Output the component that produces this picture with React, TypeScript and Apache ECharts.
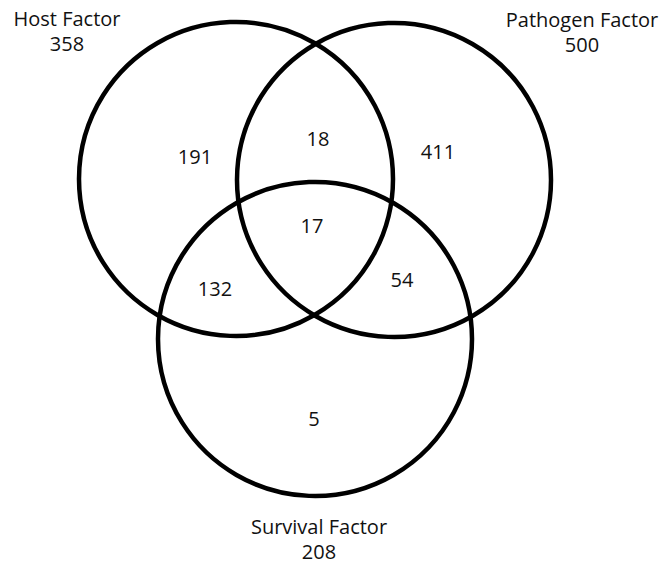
import React, { useEffect, useRef } from "react";
import * as echarts from "echarts";

// Sets (name, total)
const setNames = ["Host Factor", "Pathogen Factor", "Survival Factor"];
const setTotals = [358, 500, 208];

// Region counts
const regionKeys = ["H", "P", "HP", "HPS", "HS", "PS", "S"];
const regionCounts = [191, 411, 18, 17, 132, 54, 5];

// Layout (pixels)
const circleCenters: [number, number][] = [
  [236, 179],
  [394, 180],
  [315, 339],
];
const circleRadius = 157;
const setLabelPos: [number, number][] = [
  [67, 31],
  [582, 32],
  [319, 539],
];
const regionLabelPos: [number, number][] = [
  [195, 156],
  [438, 151],
  [318, 138],
  [312, 225],
  [215, 288],
  [402, 279],
  [314, 418],
];

const FONT = "'Open Sans', 'Noto Sans', sans-serif";

export default function App() {
  const ref = useRef<HTMLDivElement>(null);
  useEffect(() => {
    document.body.style.margin = "0";
    const chart = echarts.init(ref.current!, null, { renderer: "svg" });
    const graphics: any[] = [];
    circleCenters.forEach(([cx, cy]) => {
      graphics.push({
        type: "circle",
        shape: { cx, cy, r: circleRadius },
        style: { fill: "none", stroke: "#000", lineWidth: 4.5 },
      });
    });
    setNames.forEach((name, i) => {
      graphics.push({
        type: "text",
        x: setLabelPos[i][0],
        y: setLabelPos[i][1],
        style: {
          text: `${name}\n${setTotals[i]}`,
          fill: "#111",
          font: `20px ${FONT}`,
          align: "center",
          verticalAlign: "middle",
          lineHeight: 25,
        },
      });
    });
    regionKeys.forEach((k, i) => {
      graphics.push({
        type: "text",
        x: regionLabelPos[i][0],
        y: regionLabelPos[i][1],
        style: {
          text: String(regionCounts[i]),
          fill: "#111",
          font: `20px ${FONT}`,
          align: "center",
          verticalAlign: "middle",
        },
      });
    });
    chart.setOption({
      animation: false,
      backgroundColor: "#fff",
      graphic: graphics,
    });
    return () => chart.dispose();
  }, []);
  return <div ref={ref} style={{ width: 669, height: 566 }} />;
}
